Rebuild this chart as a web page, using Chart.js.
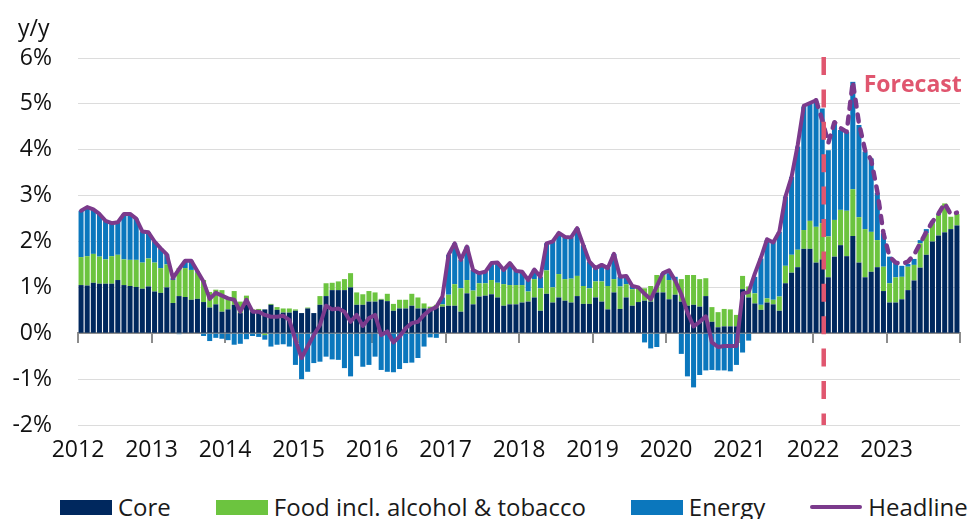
<!DOCTYPE html>
<html>
<head>
<meta charset="utf-8">
<title>Inflation contributions</title>
<script src="https://cdn.jsdelivr.net/npm/chart.js@4.4.1/dist/chart.umd.min.js"></script>
<style>
  html, body { margin: 0; padding: 0; background: #fff; }
  body { width: 972px; height: 519px; overflow: hidden; position: relative; font-family: 'Open Sans', sans-serif; }
  .chart-box { position: absolute; left: 0; top: 0; width: 972px; height: 480px; }
  .legend { position: absolute; left: 60px; top: 494px; height: 26px; display: flex; align-items: center; gap: 45px; font-size: 24px; line-height: 26px; color: #1a1a1a; white-space: nowrap; }
  .legend-item { display: flex; align-items: center; }
  .swatch { width: 52px; height: 15px; margin-right: 6px; }
  .swatch.line { height: 4px; border-radius: 2px; }
</style>
</head>
<body>
<div class="chart-box"><canvas id="chart"></canvas></div>
<div class="legend" id="legend"></div>

<script>
// monthly, Jan 2012 .. Dec 2023, contributions in pp
const YEARS = ['2012','2013','2014','2015','2016','2017','2018','2019','2020','2021','2022','2023'];

const core = [
  1.05,1.04,1.10,1.08,1.08,1.08,1.16,1.05,1.03,1.01,0.97,1.02,
  0.91,0.88,1.00,0.66,0.81,0.79,0.73,0.75,0.68,0.56,0.63,0.47,
  0.52,0.62,0.44,0.62,0.47,0.50,0.52,0.62,0.51,0.45,0.45,0.49,
  0.44,0.54,0.44,0.62,0.81,0.94,0.94,0.94,1.00,0.62,0.62,0.69,
  0.69,0.73,0.70,0.49,0.54,0.54,0.60,0.54,0.54,0.54,0.56,0.58,
  0.60,0.60,0.47,0.87,0.63,0.80,0.82,0.85,0.78,0.60,0.63,0.63,
  0.67,0.69,0.78,0.49,0.86,0.67,0.78,0.71,0.67,0.81,0.64,0.64,
  0.78,0.69,0.52,0.89,0.53,0.78,0.60,0.68,0.71,0.69,0.89,0.89,
  0.74,0.84,0.69,0.60,0.62,0.58,0.81,0.25,0.13,0.15,0.15,0.15,
  0.96,0.78,0.65,0.51,0.67,0.63,0.49,1.09,1.32,1.44,1.84,1.84,
  1.54,1.61,1.22,1.67,1.92,1.68,2.12,1.54,1.22,1.34,1.44,0.92,
  0.67,0.67,0.74,0.94,1.15,1.43,1.71,2.00,2.13,2.20,2.27,2.35
];

const food = [
  0.61,0.64,0.63,0.59,0.53,0.60,0.55,0.56,0.57,0.59,0.57,0.61,
  0.63,0.54,0.50,0.50,0.61,0.63,0.65,0.57,0.48,0.34,0.32,0.47,
  0.25,0.30,0.25,0.20,0.05,0.03,-0.04,0.02,0.06,0.09,0.09,0.03,
  0.00,0.02,0.00,0.19,0.28,0.16,0.19,0.24,0.31,0.27,0.23,0.23,
  0.20,0.02,0.16,0.15,0.19,0.19,0.26,0.24,0.11,0.04,0.06,0.05,
  0.24,0.47,0.51,0.29,0.30,0.29,0.27,0.31,0.32,0.47,0.42,0.42,
  0.38,0.22,0.40,0.49,0.51,0.33,0.51,0.47,0.52,0.44,0.39,0.34,
  0.35,0.44,0.51,0.29,0.49,0.29,0.36,0.30,0.27,0.34,0.38,0.38,
  0.42,0.30,0.49,0.67,0.65,0.60,0.39,0.32,0.33,0.38,0.37,0.25,
  0.29,0.24,0.22,0.11,0.09,0.10,0.31,0.38,0.39,0.38,0.41,0.61,
  0.78,0.79,0.89,0.80,0.77,0.99,1.02,0.99,1.05,0.87,0.59,0.53,
  0.42,0.55,0.49,0.51,0.34,0.53,0.47,0.40,0.45,0.63,0.27,0.25
];

const energy = [
  1.01,1.07,0.97,0.93,0.84,0.72,0.71,0.99,1.00,0.90,0.68,0.57,
  0.46,0.43,0.22,0.04,-0.02,0.16,0.20,0.03,-0.06,-0.17,-0.10,-0.12,
  -0.15,-0.25,-0.23,-0.13,-0.06,-0.08,-0.10,-0.29,-0.25,-0.24,-0.29,-0.69,
  -1.00,-0.84,-0.65,-0.62,-0.51,-0.57,-0.58,-0.76,-0.94,-0.50,-0.73,-0.69,
  -0.51,-0.80,-0.84,-0.85,-0.78,-0.65,-0.64,-0.54,-0.29,-0.09,-0.10,0.15,
  0.87,0.89,0.62,0.73,0.45,0.22,0.25,0.37,0.44,0.31,0.48,0.31,
  0.29,0.25,0.21,0.25,0.59,1.00,0.90,0.92,0.90,1.04,0.89,0.58,
  0.29,0.36,0.39,0.55,0.21,0.18,0.07,0.02,-0.20,-0.33,-0.30,0.04,
  0.15,0.09,-0.45,-0.94,-1.18,-0.91,-0.81,-0.80,-0.81,-0.81,-0.83,-0.69,
  -0.42,-0.16,0.36,1.01,1.27,1.27,1.41,1.51,1.70,2.25,2.69,2.55,
  2.73,2.50,1.88,2.11,1.74,1.72,2.34,2.01,1.69,1.60,1.03,0.73,
  0.58,0.34,0.24,0.06,0.13,0.07,0.09,0.05,0.02,0.00,0.00,0.00
];

const headline = [
  2.67,2.75,2.70,2.60,2.45,2.40,2.42,2.60,2.60,2.50,2.22,2.20,
  2.00,1.85,1.72,1.20,1.40,1.58,1.58,1.35,1.12,0.75,0.88,0.82,
  0.76,0.73,0.47,0.73,0.47,0.47,0.40,0.36,0.36,0.38,0.29,-0.15,
  -0.54,-0.29,-0.04,0.18,0.60,0.52,0.54,0.47,0.25,0.40,0.16,0.33,
  0.40,-0.04,0.04,-0.20,-0.07,0.11,0.22,0.25,0.40,0.51,0.57,0.80,
  1.71,1.96,1.60,1.89,1.38,1.31,1.34,1.53,1.54,1.38,1.53,1.36,
  1.34,1.16,1.39,1.23,1.96,2.00,2.19,2.10,2.09,2.29,1.92,1.56,
  1.42,1.49,1.42,1.73,1.23,1.25,1.03,1.00,0.86,0.74,1.02,1.31,
  1.37,1.15,0.85,0.45,0.15,0.25,0.37,-0.20,-0.30,-0.28,-0.28,-0.28,
  0.87,0.90,1.30,1.65,2.05,1.98,2.21,2.98,3.41,4.10,4.96,5.02,
  5.08,4.65,4.15,4.60,4.47,4.39,5.48,4.58,3.99,3.78,3.09,2.18,
  1.67,1.54,1.51,1.56,1.71,1.96,2.21,2.43,2.61,2.83,2.59,2.63
];

const FORECAST_FROM = 120;    // headline dashed from Jan 2022 on
const FORECAST_AT = 121.75;   // marker position on the month axis

const COLORS = {
  core: '#00285e',
  food: '#6cc43f',
  energy: '#0b77bd',
  headline: '#7b3a8c',
  forecast: '#e0566f',
  axis: '#8c8c8c',
  grid: '#dcdcdc',
  text: '#111'
};

Chart.defaults.font.family = "'Open Sans', sans-serif";
Chart.defaults.font.size = 23;
Chart.defaults.color = COLORS.text;

// monthly points centred inside each month slot
const toPoints = arr => arr.map((v, i) => ({ x: i + 0.5, y: v }));

const barDefaults = { type: 'bar', barPercentage: 0.82, categoryPercentage: 1, borderWidth: 0, order: 0 };

const annotations = {
  id: 'annotations',
  afterDatasetsDraw(chart) {
    const { ctx, chartArea, scales } = chart;
    const px = scales.x.getPixelForValue(FORECAST_AT);
    ctx.save();
    ctx.strokeStyle = COLORS.forecast;
    ctx.lineWidth = 4.5;
    ctx.setLineDash([18, 14.4]);
    ctx.beginPath();
    ctx.moveTo(px, chartArea.top - 1);
    ctx.lineTo(px, chartArea.bottom);
    ctx.stroke();
    ctx.setLineDash([]);
    ctx.fillStyle = COLORS.forecast;
    ctx.font = "bold 23px 'Open Sans', sans-serif";
    ctx.textBaseline = 'middle';
    ctx.fillText('Forecast', px + 40, chartArea.top + 27);
    // unit label above the y axis
    ctx.fillStyle = COLORS.text;
    ctx.font = "23px 'Open Sans', sans-serif";
    ctx.fillText('y/y', 18, 29);
    ctx.restore();
  }
};

const chart = new Chart(document.getElementById('chart'), {
  data: {
    datasets: [
      { ...barDefaults, label: 'Core', data: toPoints(core), backgroundColor: COLORS.core },
      { ...barDefaults, label: 'Food incl. alcohol & tobacco', data: toPoints(food), backgroundColor: COLORS.food },
      { ...barDefaults, label: 'Energy', data: toPoints(energy), backgroundColor: COLORS.energy },
      {
        type: 'line',
        label: 'Headline',
        data: toPoints(headline),
        borderColor: COLORS.headline,
        borderWidth: 4,
        borderJoinStyle: 'round',
        borderCapStyle: 'round',
        pointRadius: 0,
        tension: 0,
        order: -1,
        segment: {
          borderDash: c => c.p0DataIndex >= FORECAST_FROM ? [7, 8] : undefined,
          borderWidth: c => c.p0DataIndex >= FORECAST_FROM ? 4.5 : undefined
        }
      }
    ]
  },
  options: {
    responsive: true,
    maintainAspectRatio: false,
    animation: false,
    layout: { padding: { left: 0, right: 7, top: 58, bottom: 0 } },
    plugins: {
      legend: { display: false },
      tooltip: { enabled: false }
    },
    scales: {
      x: {
        type: 'linear',
        position: { y: 0 },
        min: 0,
        max: 144,
        offset: false,
        stacked: true,
        z: 1,
        ticks: { display: false, stepSize: 12 },
        grid: { offset: false, drawOnChartArea: false, drawTicks: true, tickLength: 9, color: COLORS.axis, lineWidth: 2 },
        border: { display: true, color: COLORS.axis, width: 2 }
      },
      xLabels: {
        type: 'linear',
        position: 'bottom',
        min: 0,
        max: 144,
        offset: false,
        ticks: {
          stepSize: 12,
          autoSkip: false,
          maxRotation: 0,
          padding: 12,
          color: COLORS.text,
          callback: v => YEARS[v / 12] || ''
        },
        grid: { display: false, drawTicks: false },
        border: { display: false },
        afterFit: s => { s.height = 55; }
      },
      y: {
        min: -2,
        max: 6,
        stacked: true,
        ticks: { stepSize: 1, padding: 26, color: COLORS.text, callback: v => v + '%' },
        grid: { color: COLORS.grid, lineWidth: 1, drawTicks: false },
        border: { display: false },
        afterFit: s => { s.width = 78; }
      }
    }
  },
  plugins: [annotations]
});

// html legend
document.getElementById('legend').innerHTML = chart.data.datasets.map(ds => {
  const isLine = ds.type === 'line';
  const color = isLine ? ds.borderColor : ds.backgroundColor;
  return `<div class="legend-item"><span class="swatch${isLine ? ' line' : ''}" style="background:${color}"></span><span>${ds.label.replace('&', '&amp;')}</span></div>`;
}).join('');
</script>
</body>
</html>
